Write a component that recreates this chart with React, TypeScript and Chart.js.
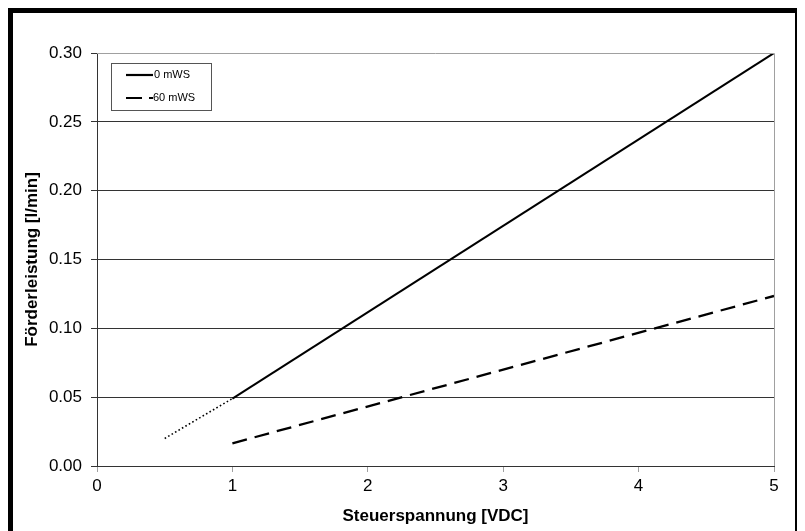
import React, { useEffect, useRef } from "react";
import { Chart, registerables } from "chart.js";

Chart.register(...registerables);

const xTicks = [0, 1, 2, 3, 4, 5];
const yTicks = [0, 0.05, 0.1, 0.15, 0.2, 0.25, 0.3];

const series0X = [1, 5];
const series0Y = [0.049, 0.3];
const extrapX = [0.5, 1];
const extrapY = [0.02, 0.049];
const series60X = [1, 5];
const series60Y = [0.0165, 0.1235];

const legendLabels = ["0 mWS", "60 mWS"];
const xTitle = "Steuerspannung [VDC]";
const yTitle = "Förderleistung [l/min]";

const FONT = "'Liberation Sans', Arial, sans-serif";

const toPts = (xs: number[], ys: number[]) => xs.map((x, i) => ({ x, y: ys[i] }));

const framePlugin = {
  id: "frameAndLegend",
  afterDatasetsDraw(chart: any) {
    const { ctx, chartArea } = chart;
    const { left, top, right, bottom } = chartArea;
    ctx.save();
    ctx.strokeStyle = "#a0a0a0";
    ctx.lineWidth = 1;
    ctx.beginPath();
    ctx.moveTo(left, top + 0.5);
    ctx.lineTo(right + 0.5, top + 0.5);
    ctx.lineTo(right + 0.5, bottom);
    ctx.stroke();
    // legend box
    const bx = left + 14;
    const by = top + 10;
    const bw = 100;
    const bh = 47;
    ctx.fillStyle = "#fff";
    ctx.fillRect(bx, by, bw, bh);
    ctx.strokeStyle = "#555";
    ctx.strokeRect(bx + 0.5, by + 0.5, bw, bh);
    ctx.strokeStyle = "#000";
    ctx.lineWidth = 2.2;
    const y1 = by + 12;
    const y2 = by + 35;
    ctx.beginPath();
    ctx.moveTo(bx + 15, y1);
    ctx.lineTo(bx + 42, y1);
    ctx.stroke();
    ctx.beginPath();
    ctx.moveTo(bx + 15, y2);
    ctx.lineTo(bx + 31, y2);
    ctx.moveTo(bx + 38, y2);
    ctx.lineTo(bx + 42, y2);
    ctx.stroke();
    ctx.fillStyle = "#000";
    ctx.font = `11px ${FONT}`;
    ctx.textBaseline = "middle";
    ctx.textAlign = "left";
    ctx.fillText(legendLabels[0], bx + 43, y1);
    ctx.fillText(legendLabels[1], bx + 42, y2);
    ctx.restore();
  },
};

export default function App() {
  const ref = useRef<HTMLCanvasElement | null>(null);

  useEffect(() => {
    if (!ref.current) return;
    const chart = new Chart(ref.current, {
      type: "scatter",
      data: {
        datasets: [
          {
            label: legendLabels[0],
            data: toPts(series0X, series0Y),
            showLine: true,
            borderColor: "#000",
            borderWidth: 2,
            pointRadius: 0,
          },
          {
            label: "extrap",
            data: toPts(extrapX, extrapY),
            showLine: true,
            borderColor: "#000",
            borderWidth: 1.6,
            borderDash: [1.6, 2.4],
            pointRadius: 0,
          },
          {
            label: legendLabels[1],
            data: toPts(series60X, series60Y),
            showLine: true,
            borderColor: "#000",
            borderWidth: 2.3,
            borderDash: [15, 8],
            pointRadius: 0,
          },
        ],
      },
      options: {
        responsive: false,
        animation: false,
        layout: { padding: { top: 40, right: 21, left: 0, bottom: 0 } },
        plugins: { legend: { display: false }, tooltip: { enabled: false } },
        scales: {
          x: {
            type: "linear",
            min: 0,
            max: 5,
            afterBuildTicks: (s: any) => {
              s.ticks = xTicks.map((v) => ({ value: v }));
            },
            afterFit: (s: any) => {
              s.height = 65;
            },
            ticks: {
              color: "#000",
              font: { family: FONT, size: 17 },
              padding: 4,
              callback: (v: any) => String(v),
            },
            grid: {
              drawOnChartArea: false,
              tickLength: 6,
              tickColor: "#a0a0a0",
            },
            border: { color: "#333", width: 1 },
            title: {
              display: true,
              text: xTitle,
              color: "#000",
              font: { family: FONT, size: 17, weight: "bold" },
              padding: { top: 0, bottom: 4 },
            },
          },
          y: {
            type: "linear",
            min: 0,
            max: 0.3,
            afterBuildTicks: (s: any) => {
              s.ticks = yTicks.map((v) => ({ value: v }));
            },
            afterFit: (s: any) => {
              s.width = 84;
            },
            ticks: {
              color: "#000",
              font: { family: FONT, size: 17 },
              padding: 9,
              callback: (v: any) => Number(v).toFixed(2),
            },
            grid: {
              tickLength: 6,
              color: (c: any) => (c.tick && Math.abs(c.tick.value - 0.3) < 1e-9 ? "rgba(0,0,0,0)" : "#333"),
              tickColor: "#333",
            },
            border: { color: "#333", width: 1 },
            title: {
              display: true,
              text: yTitle,
              color: "#000",
              font: { family: FONT, size: 17, weight: "bold" },
              padding: { top: 9, bottom: 0 },
            },
          },
        },
      },
      plugins: [framePlugin],
    });
    return () => chart.destroy();
  }, []);

  return (
    <div style={{ width: 792, height: 523, overflow: "hidden" }}>
      <div
        style={{
          width: 782,
          height: 540,
          border: "5px solid #000",
          background: "#fff",
        }}
      >
        <canvas ref={ref} width={782} height={518} style={{ display: "block" }} />
      </div>
    </div>
  );
}
